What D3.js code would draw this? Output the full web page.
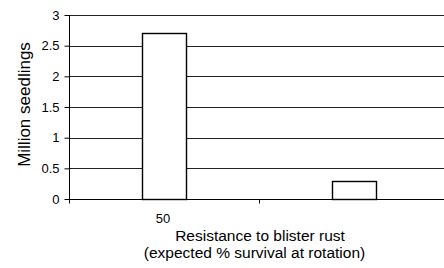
<!DOCTYPE html>
<html lang="en">
<head>
<meta charset="UTF-8">
<title>Million seedlings</title>
<style>
  body { margin: 0; background: #fff; }
  svg { display: block; font-family: "Liberation Sans", Arial, sans-serif; }
</style>
</head>
<body>
<div id="chart"></div>
<script src="https://d3js.org/d3.v7.min.js"></script>
<script>
// data
const categories = ["50", ""];
const seedlings = [2.71, 0.29];
const yTicks = [0, 0.5, 1, 1.5, 2, 2.5, 3];

const W = 444, H = 268;
const plot = { left: 69, right: 449, top: 15, bottom: 199 };

const svg = d3.select("#chart").append("svg")
    .attr("width", W)
    .attr("height", H);

const y = d3.scaleLinear().domain([0, 3]).range([plot.bottom, plot.top]);
// category slots (ticks sit on the slot edges)
const slot = d3.scaleBand().domain(categories).range([plot.left, plot.right]).padding(0);
// bars centred in each slot
const x = d3.scaleBand().domain(categories).range([plot.left, plot.right])
    .paddingInner(0.768).paddingOuter(0.384);

// gridlines
svg.append("g")
  .selectAll("line")
  .data(yTicks.filter(d => d > 0))
  .join("line")
    .attr("x1", plot.left).attr("x2", plot.right)
    .attr("y1", d => Math.round(y(d)) + 0.5)
    .attr("y2", d => Math.round(y(d)) + 0.5)
    .attr("stroke", "#222")
    .attr("stroke-width", 1);

// bars
svg.append("g")
  .selectAll("rect")
  .data(categories.map((c, i) => ({ c, v: seedlings[i] })))
  .join("rect")
    .attr("x", d => Math.round(x(d.c)) + 0.5)
    .attr("y", d => Math.round(y(d.v)) + 0.5)
    .attr("width", Math.round(x.bandwidth()))
    .attr("height", d => Math.round(y(0)) - Math.round(y(d.v)))
    .attr("fill", "#fff")
    .attr("stroke", "#000")
    .attr("stroke-width", 1.4);

// y axis
const yAxis = svg.append("g")
    .attr("transform", `translate(${plot.left + 0.5},0)`)
    .call(d3.axisLeft(y).tickValues(yTicks).tickFormat(d3.format("")).tickSize(5).tickPadding(5));
yAxis.select(".domain").attr("stroke", "#000").attr("d", `M0,${plot.top}V${plot.bottom + 0.5}`);
yAxis.selectAll(".tick line").attr("stroke", "#000");
yAxis.selectAll(".tick text").attr("font-size", 13).attr("fill", "#000")
    .attr("font-family", "Liberation Sans, Arial, sans-serif");

// x axis baseline and slot ticks
const xAxis = svg.append("g")
    .attr("transform", `translate(0,${Math.round(plot.bottom) + 0.5})`);
xAxis.append("line")
    .attr("x1", plot.left).attr("x2", plot.right)
    .attr("stroke", "#000");
xAxis.selectAll(".slot")
  .data(categories.concat(["end"]))
  .join("line")
    .attr("class", "slot")
    .attr("x1", (d, i) => Math.round(plot.left + i * slot.step()) + 0.5)
    .attr("x2", (d, i) => Math.round(plot.left + i * slot.step()) + 0.5)
    .attr("y1", 0).attr("y2", 4)
    .attr("stroke", "#000");
xAxis.selectAll(".lab")
  .data(categories)
  .join("text")
    .attr("class", "lab")
    .attr("x", d => slot(d) + slot.bandwidth() / 2 - 1)
    .attr("y", 23.5)
    .attr("text-anchor", "middle")
    .attr("font-size", 13)
    .text(d => d);

// axis titles
svg.append("text")
    .attr("transform", `translate(29.5,${104.5}) rotate(-90)`)
    .attr("text-anchor", "middle")
    .attr("font-size", 17)
    .text("Million seedlings");

svg.append("text")
    .attr("x", 260).attr("y", 240.5)
    .attr("text-anchor", "middle")
    .attr("font-size", 15.5)
    .text("Resistance to blister rust");

svg.append("text")
    .attr("x", 254.5).attr("y", 258)
    .attr("text-anchor", "middle")
    .attr("font-size", 15.5)
    .text("(expected % survival at rotation)");
</script>
</body>
</html>
